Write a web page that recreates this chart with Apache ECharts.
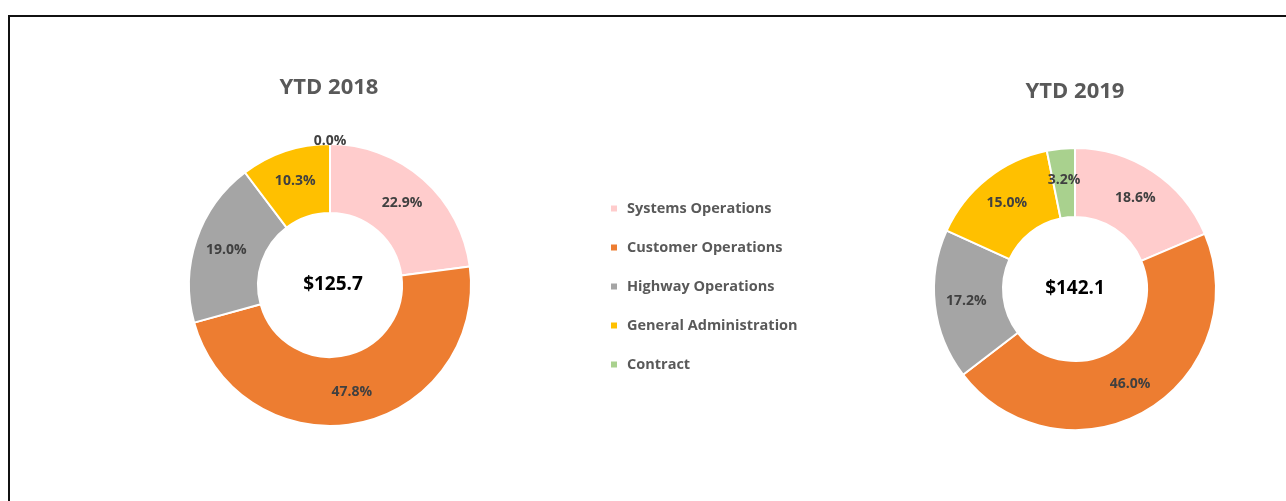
<!DOCTYPE html>
<html>
<head>
<meta charset="utf-8">
<script src="https://cdn.jsdelivr.net/npm/echarts@6/dist/echarts.min.js"></script>
<style>
  html, body { margin: 0; padding: 0; background: #fff; }
  #chart { width: 1286px; height: 501px; }
</style>
</head>
<body>
<div id="chart"></div>
<script>
// categories and values (percent of total)
const categories = ["Systems Operations", "Customer Operations", "Highway Operations", "General Administration", "Contract"];
const colors = ["#FFCCCC", "#ED7D31", "#A5A5A5", "#FFC000", "#A9D18E"];
const values2018 = [22.9, 47.8, 19.0, 10.3, 0.0];
const values2019 = [18.6, 46.0, 17.2, 15.0, 3.2];
const totals = ["$125.7", "$142.1"];
const titles = ["YTD 2018", "YTD 2019"];

const font = "'Open Sans', sans-serif";

const makeData = vals => vals.map((v, i) => {
  const item = { name: categories[i], value: v, itemStyle: { color: colors[i] } };
  // zero slice: label sits just above the ring
  if (v === 0) item.label = { offset: [0, -34] };
  return item;
});

const pieSeries = (vals, center) => ({
  type: "pie",
  center: center,
  radius: [72, 141],
  startAngle: 90,
  clockwise: true,
  avoidLabelOverlap: false,
  itemStyle: { borderColor: "#fff", borderWidth: 2 },
  label: {
    show: true,
    position: "inside",
    formatter: p => p.value.toFixed(1) + "%",
    color: "#404040",
    fontFamily: font,
    fontWeight: "bold",
    fontSize: 14
  },
  labelLine: { show: false },
  emphasis: { disabled: true },
  data: makeData(vals)
});

const titleStyle = { color: "#595959", fontFamily: font, fontWeight: "bold", fontSize: 22 };
const totalStyle = { color: "#000", fontFamily: font, fontWeight: "bold", fontSize: 19 };

const option = {
  animation: false,
  backgroundColor: "#fff",
  title: [
    { text: titles[0], left: 329, top: 77, textAlign: "center", padding: 0, textStyle: titleStyle },
    { text: titles[1], left: 1075, top: 81, textAlign: "center", padding: 0, textStyle: titleStyle },
    { text: totals[0], left: 333, top: 275, textAlign: "center", padding: 0, textStyle: totalStyle },
    { text: totals[1], left: 1075, top: 279, textAlign: "center", padding: 0, textStyle: totalStyle }
  ],
  legend: {
    orient: "vertical",
    left: 609,
    top: 199,
    padding: 0,
    itemWidth: 8,
    itemHeight: 8,
    itemGap: 20,
    icon: "rect",
    selectedMode: false,
    textStyle: {
      color: "#595959", fontFamily: font, fontWeight: "bold", fontSize: 14.5,
      lineHeight: 19, padding: [0, 0, 0, 4]
    },
    data: categories
  },
  graphic: [
    { type: "rect", shape: { x: 9, y: 16, width: 1400, height: 600 },
      style: { fill: null, stroke: "#111", lineWidth: 2 }, silent: true }
  ],
  series: [
    pieSeries(values2018, [330, 285]),
    pieSeries(values2019, [1075, 289])
  ]
};

const myChart = echarts.init(document.getElementById("chart"));
myChart.setOption(option);
</script>
</body>
</html>
